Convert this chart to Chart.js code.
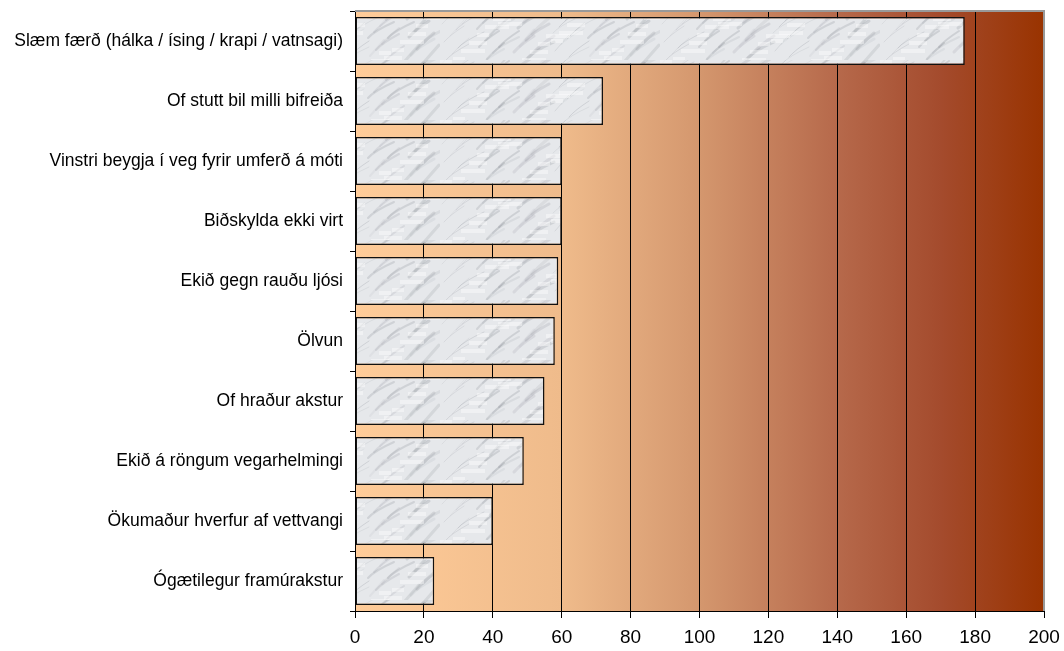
<!DOCTYPE html>
<html>
<head>
<meta charset="utf-8">
<script src="https://cdn.jsdelivr.net/npm/chart.js@4.4.0/dist/chart.umd.min.js"></script>
<style>
  html, body { margin: 0; padding: 0; background: #fff; }
  #wrap { width: 1064px; height: 651px; }
</style>
</head>
<body>
<div id="wrap"><canvas id="orsokChart" width="1064" height="651"></canvas></div>
<script>
// gögn
const flokkar = [
  "Slæm færð (hálka / ísing / krapi / vatnsagi)",
  "Of stutt bil milli bifreiða",
  "Vinstri beygja í veg fyrir umferð á móti",
  "Biðskylda ekki virt",
  "Ekið gegn rauðu ljósi",
  "Ölvun",
  "Of hraður akstur",
  "Ekið á röngum vegarhelmingi",
  "Ökumaður hverfur af vettvangi",
  "Ógætilegur framúrakstur"
];
const fjoldi = [177, 72, 60, 60, 59, 58, 55, 49, 40, 23];
const xTicks = [0, 20, 40, 60, 80, 100, 120, 140, 160, 180, 200];

// marmaraáferð á súlurnar
function marmari() {
  const c = document.createElement("canvas");
  c.width = 220; c.height = 60;
  const g = c.getContext("2d");
  g.fillStyle = "#e6e8eb";
  g.fillRect(0, 0, 220, 60);
  g.lineCap = "round";
  for (let i = 0; i < 70; i++) {
    const x = (i * 37) % 220;
    const y = (i * 23) % 60;
    const a = 0.06 + ((i * 7) % 10) / 70;
    g.strokeStyle = "rgba(100,105,115," + a + ")";
    g.lineWidth = 1 + (i % 3);
    g.beginPath();
    g.moveTo(x, y + 6);
    g.quadraticCurveTo(x + 6, y - 1, x + 14 + (i % 5) * 3, y - 10);
    g.stroke();
  }
  for (let i = 0; i < 30; i++) {
    g.fillStyle = "rgba(255,255,255,0.4)";
    g.fillRect((i * 53) % 220, (i * 17) % 60, 12 + (i % 3) * 6, 4);
  }
  return g.createPattern(c, "repeat");
}

const bakgrunnur = {
  id: "bakgrunnur",
  beforeDraw(chart) {
    const { ctx, chartArea: a } = chart;
    const grd = ctx.createLinearGradient(a.left, 0, a.right, 0);
    grd.addColorStop(0, "#ffcc99");
    grd.addColorStop(0.3, "#efbb8b");
    grd.addColorStop(0.5, "#d4976e");
    grd.addColorStop(0.7, "#b6694b");
    grd.addColorStop(0.85, "#a44b2d");
    grd.addColorStop(1, "#993300");
    ctx.save();
    ctx.fillStyle = grd;
    ctx.fillRect(a.left, a.top, a.right - a.left, a.bottom - a.top);
    ctx.restore();
  },
  afterDraw(chart) {
    const { ctx, chartArea: a } = chart;
    ctx.save();
    ctx.strokeStyle = "#999";
    ctx.lineWidth = 2;
    ctx.beginPath();
    ctx.moveTo(a.left, a.top);
    ctx.lineTo(a.right, a.top);
    ctx.lineTo(a.right, a.bottom);
    ctx.stroke();
    ctx.restore();
  }
};

new Chart(document.getElementById("orsokChart").getContext("2d"), {
  type: "bar",
  data: {
    labels: flokkar,
    datasets: [{
      data: fjoldi,
      backgroundColor: marmari(),
      borderColor: "#111",
      borderWidth: 1.5,
      borderSkipped: false,
      barPercentage: 0.8,
      categoryPercentage: 1
    }]
  },
  options: {
    indexAxis: "y",
    responsive: false,
    animation: false,
    layout: { padding: { top: 11, right: 20, left: 0, bottom: 0 } },
    plugins: { legend: { display: false }, tooltip: { enabled: false } },
    scales: {
      x: {
        min: 0,
        max: 200,
        afterBuildTicks: (s) => { s.ticks = xTicks.map(v => ({ value: v })); },
        afterFit: (s) => { s.height = 40; s.paddingLeft = 0; s.paddingRight = 0; },
        border: { display: true, color: "#000", width: 1 },
        grid: { color: "#000", lineWidth: 1, tickLength: 7, tickColor: "#000" },
        ticks: { color: "#000", padding: 8, font: { family: "Liberation Sans", size: 19 } }
      },
      y: {
        afterFit: (s) => { s.width = 355; s.paddingTop = 0; s.paddingBottom = 0; },
        border: { display: true, color: "#000", width: 1 },
        grid: { offset: true, drawOnChartArea: false, tickLength: 5, tickColor: "#000" },
        ticks: { color: "#000", padding: 7, font: { family: "Liberation Sans", size: 17.5 } }
      }
    }
  },
  plugins: [bakgrunnur]
});
</script>
</body>
</html>
